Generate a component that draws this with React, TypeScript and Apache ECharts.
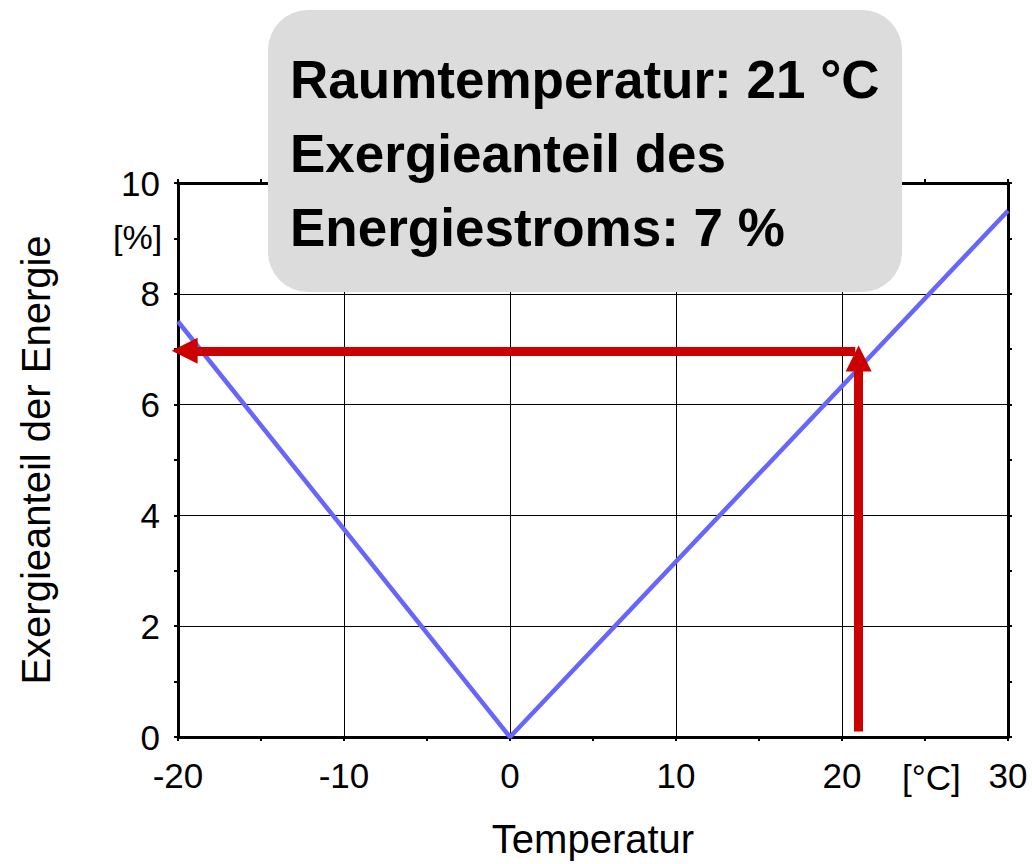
import React, { useEffect, useRef } from "react";
import * as echarts from "echarts";

const xTicks = [-20, -10, 0, 10, 20, 30];
const yTicks = [0, 2, 4, 6, 8, 10];
const lineX = [-20, 0, 30];
const lineY = [7.5, 0, 9.5];
const roomTemp = 21;
const exergyShare = 7;
const boxLines = ["Raumtemperatur: 21 °C", "Exergieanteil des", "Energiestroms: 7 %"];

const FONT = "'Liberation Sans', Arial, sans-serif";

export default function App() {
  const ref = useRef<HTMLDivElement>(null);
  useEffect(() => {
    if (!ref.current) return;
    const chart = echarts.init(ref.current, undefined, { renderer: "svg" });
    const axisCommon = {
      type: "value" as const,
      axisLine: { show: true, onZero: false, lineStyle: { color: "#000", width: 3 } },
      axisTick: { show: true, length: 4, lineStyle: { color: "#000", width: 2 } },
      minorTick: { show: true, splitNumber: 2, length: 4, lineStyle: { color: "#000", width: 2 } },
    };
    chart.setOption({
      animation: false,
      backgroundColor: "#fff",
      textStyle: { fontFamily: FONT },
      grid: { left: 178, top: 183, right: 24, bottom: 124, containLabel: false },
      xAxis: [
        {
          ...axisCommon,
          min: xTicks[0],
          max: xTicks[xTicks.length - 1],
          interval: 10,
          position: "bottom",
          name: "Temperatur",
          nameLocation: "middle",
          nameGap: 82,
          nameTextStyle: { fontSize: 40, color: "#000", fontFamily: FONT },
          axisLabel: { fontSize: 35, color: "#000", margin: 21, fontFamily: FONT },
          splitLine: { show: true, lineStyle: { color: "#000", width: 1 } },
        },
        {
          ...axisCommon,
          min: xTicks[0],
          max: xTicks[xTicks.length - 1],
          interval: 10,
          position: "top",
          axisLabel: { show: false },
          splitLine: { show: false },
        },
      ],
      yAxis: [
        {
          ...axisCommon,
          min: yTicks[0],
          max: yTicks[yTicks.length - 1],
          interval: 2,
          position: "left",
          name: "Exergieanteil der Energie",
          nameLocation: "middle",
          nameGap: 122,
          nameRotate: 90,
          nameTextStyle: { fontSize: 40, color: "#000", fontFamily: FONT },
          axisLabel: { fontSize: 35, color: "#000", margin: 18, fontFamily: FONT },
          splitLine: { show: true, lineStyle: { color: "#000", width: 1 } },
        },
        {
          ...axisCommon,
          min: yTicks[0],
          max: yTicks[yTicks.length - 1],
          interval: 2,
          position: "right",
          axisLabel: { show: false },
          splitLine: { show: false },
        },
      ],
      series: [
        {
          type: "line",
          data: lineX.map((x, i) => [x, lineY[i]]),
          showSymbol: false,
          symbol: "none",
          lineStyle: { color: "#6666ff", width: 4.5 },
          z: 3,
        },
        {
          type: "line",
          data: [],
          symbol: "none",
          markLine: {
            silent: true,
            symbol: ["none", "triangle"],
            symbolSize: [26, 26],
            label: { show: false },
            lineStyle: { color: "#cc0000", width: 9, type: "solid" },
            data: [
              [{ coord: [roomTemp, 0.1] }, { coord: [roomTemp, exergyShare - 0.17] }],
              [{ coord: [roomTemp - 0.2, exergyShare - 0.03] }, { coord: [-19.6, exergyShare - 0.03] }],
            ],
          },
          z: 4,
        },
      ],
      graphic: [
        {
          type: "text",
          left: 113,
          top: 220,
          style: { text: "[%]", fill: "#000", font: `34px ${FONT}` },
        },
        {
          type: "text",
          left: 902,
          top: 760,
          style: { text: "[°C]", fill: "#000", font: `35px ${FONT}` },
        },
        {
          type: "rect",
          shape: { x: 268, y: 10, width: 634, height: 282, r: 40 },
          style: { fill: "#dcdcdc" },
          z: 100,
        },
        ...boxLines.map((t, i) => ({
          type: "text",
          x: 290,
          y: 79 + i * 74,
          z: 101,
          style: {
            text: t,
            fill: "#000",
            font: `bold 53px ${FONT}`,
            verticalAlign: "middle",
          },
        })),
      ],
    });
    return () => chart.dispose();
  }, []);
  return <div ref={ref} style={{ position: "fixed", left: 0, top: 0, width: 1032, height: 864 }} />;
}
